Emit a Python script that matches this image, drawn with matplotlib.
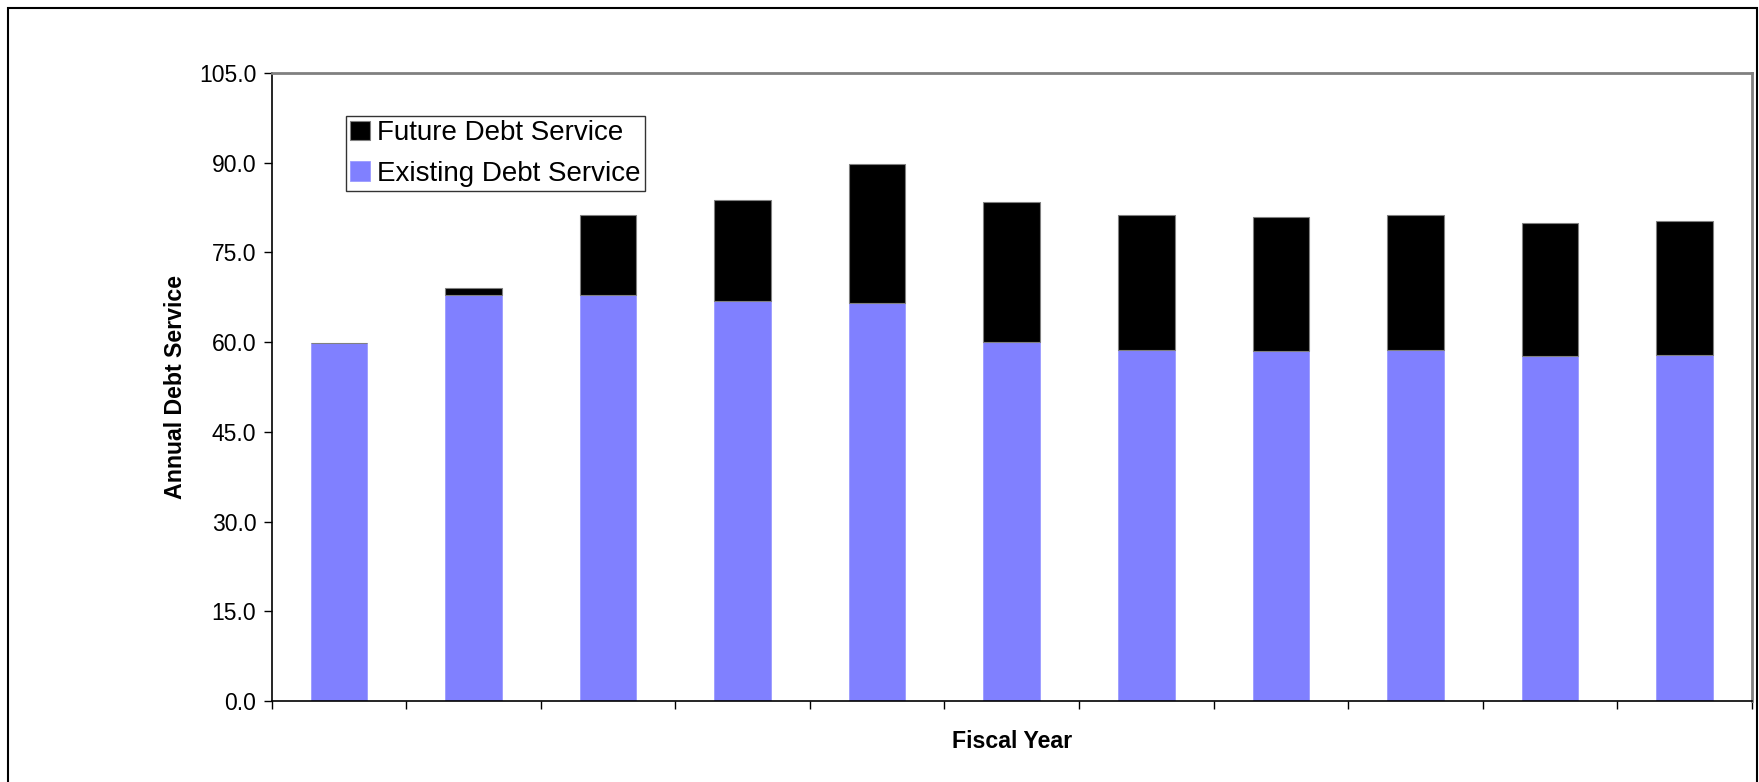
import matplotlib
matplotlib.use("Agg")
import matplotlib.pyplot as plt
from matplotlib.patches import Rectangle
import numpy as np

plt.rcParams['font.family'] = ['Liberation Sans', 'DejaVu Sans']

categories = ["", "", "", "", "", "", "", "", "", "", ""]
existing = [59.8, 67.9, 67.9, 66.9, 66.6, 60.0, 58.7, 58.5, 58.7, 57.6, 57.8]
totals = [59.8, 69.0, 81.2, 83.8, 89.8, 83.4, 81.2, 81.0, 81.2, 79.9, 80.3]
future = [t - e for t, e in zip(totals, existing)]
yticks = [0, 15, 30, 45, 60, 75, 90, 105]

W, H = 1759, 782
fig = plt.figure(figsize=(W / 100, H / 100), dpi=100)
left, right, top, bottom = 271.5, 1752, 73, 701
pw, ph = right - left, bottom - top
ax = fig.add_axes([left / W, 1 - bottom / H, pw / W, ph / H])

x = np.arange(len(categories))
bw = 0.42
b1 = ax.bar(x, existing, width=bw, color="#8080FF", edgecolor="#9a9aff", linewidth=0.6,
            label="Existing Debt Service", zorder=2)
b2 = ax.bar(x, future, bottom=existing, width=bw, color="#000000", edgecolor="#808080",
            linewidth=0.8, label="Future Debt Service", zorder=2)

ax.set_xlim(-0.5, len(categories) - 0.5)
ax.set_ylim(0, 105)
ax.set_yticks(yticks)
ax.set_yticklabels([f"{v:.1f}" for v in yticks], fontsize=16.5)
ax.set_xticks(np.arange(len(categories) + 1) - 0.5)
ax.set_xticklabels([""] * (len(categories) + 1))
ax.tick_params(axis="both", direction="out", length=6, width=1, color="black", pad=5)

for s in ["top", "right"]:
    ax.spines[s].set_color("#808080")
    ax.spines[s].set_linewidth(2)
for s in ["left", "bottom"]:
    ax.spines[s].set_color("black")
    ax.spines[s].set_linewidth(1.2)

ax.set_ylabel("Annual Debt Service", fontsize=16.7, fontweight="bold", va="center", ha="center")
ax.yaxis.set_label_coords((175 - left) / pw, 0.5 + (387 - (top + bottom) / 2) / -ph)
ax.set_xlabel("Fiscal Year", fontsize=16.7, fontweight="bold", va="center", ha="center")
ax.xaxis.set_label_coords((1012.5 - left) / pw, (bottom - 741) / ph)

leg = ax.legend(handles=[b2, b1], loc="upper left",
                bbox_to_anchor=((345.5 - left) / pw, 1 - (115.5 - top) / ph),
                fontsize=20, frameon=True, fancybox=False, edgecolor="black",
                handlelength=0.7, handleheight=0.7, handletextpad=0.25, borderpad=0.17,
                labelspacing=0.52, borderaxespad=0)
leg.get_frame().set_linewidth(1)

fig.patches.append(Rectangle((8 / W, -0.01), (1757 - 8) / W, 1 - 8 / H + 0.01,
                             transform=fig.transFigure, fill=False, edgecolor="black", linewidth=1.5))

fig.savefig("out.png", dpi=100)
